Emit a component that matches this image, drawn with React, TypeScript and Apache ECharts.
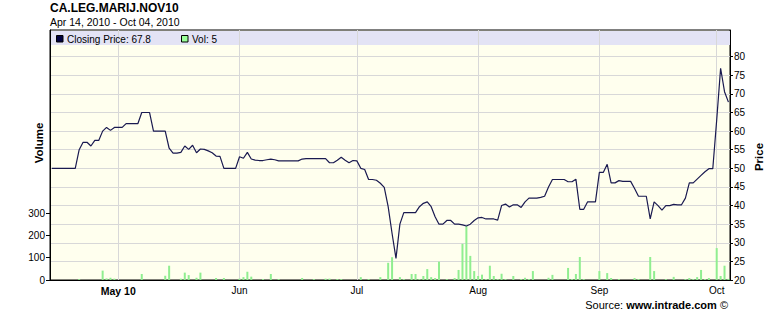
import React, { useEffect, useRef } from "react";
import * as echarts from "echarts";

const startDate = "2010-04-14";

const closingPrices = [
  50, 50, 50, 50, 50, 50, 50,
  55, 57, 57, 56, 57.5, 57.5,
  60, 61, 60.2, 61, 61, 61,
  62, 62, 62, 62, 65, 65, 65,
  60, 60, 60, 60, 55.4, 54.1, 54.1, 54.3,
  56, 55.1, 56.2, 54.2, 55.2, 55.1, 54.7, 54.2, 53.3, 53.2,
  50, 50, 50, 50, 53.1, 52.7, 54.3, 52.5, 52.2, 52.1,
  52.1, 52.3, 52.5, 52.3, 52, 52, 52, 52, 52, 52,
  52.5, 52.6, 52.6, 52.6, 52.6, 52.6, 52.6, 51.5, 51.5, 52.2,
  53, 52.2, 51.5, 52.1, 52, 50, 49.7, 47, 47, 46.8,
  46, 44.9, 39.7, 32.5, 25.8, 35, 38.1, 38.1, 38.1, 38.1,
  39.7, 40.6, 41, 39.7, 37, 35, 35, 36, 36, 35,
  35, 34.8, 34.5, 35, 36, 36.7, 36.8, 36.4, 36.4, 36.4,
  36.1, 40, 40.4, 39.6, 40.2, 40.2, 39.5, 41, 42, 42,
  42, 42.2, 42.5, 45, 47, 47, 47, 47, 46.4, 46.4,
  47.1, 39, 39, 41, 41, 41, 48.9, 48.9, 51.1, 46.1,
  46.1, 46.7, 46.5, 46.5, 46.5, 44.6, 42.5, 42.5, 42.5, 36.4,
  41, 40, 38.8, 40, 40, 40.3, 40.2, 40.2, 42, 46.1,
  46.1, 47.1, 48.1, 49.1, 49.9, 49.9, 63, 76.9, 70.6, 67.8,
];

const volumes = [
  0, 0, 0, 0, 0, 0, 0, 4, 0, 0,
  0, 0, 0, 42, 7, 10, 6, 0, 0, 0,
  0, 0, 0, 27, 0, 0, 0, 0, 0, 19,
  64, 0, 0, 6, 33, 22, 0, 10, 33, 0,
  0, 0, 9, 0, 9, 0, 0, 0, 6, 13,
  37, 15, 0, 0, 4, 0, 27, 0, 4, 0,
  0, 0, 0, 0, 9, 0, 0, 4, 0, 0,
  6, 6, 0, 4, 4, 0, 0, 0, 0, 13,
  0, 4, 0, 0, 13, 0, 77, 102, 0, 13,
  4, 0, 27, 27, 4, 18, 49, 13, 9, 82,
  0, 4, 0, 9, 45, 162, 241, 108, 40, 18,
  24, 4, 64, 18, 4, 28, 4, 0, 18, 0,
  4, 10, 4, 40, 0, 0, 0, 10, 23, 0,
  0, 0, 54, 4, 27, 103, 4, 0, 0, 0,
  40, 0, 31, 9, 0, 4, 0, 0, 0, 9,
  4, 0, 0, 103, 40, 0, 0, 4, 0, 14,
  0, 0, 4, 9, 4, 13, 45, 4, 9, 0,
  143, 18, 64, 5,
];

const priceTicks = [20, 25, 30, 35, 40, 45, 50, 55, 60, 65, 70, 75, 80];
const volumeTicks = [0, 100, 200, 300];
const monthTicks = ["2010-05-01", "2010-06-01", "2010-07-01", "2010-08-01", "2010-09-01", "2010-10-01"];
const monthLabels = ["May 10", "Jun", "Jul", "Aug", "Sep", "Oct"];

const FONT = "Arial, 'Liberation Sans', sans-serif";
const DAY = 86400000;

export default function App() {
  const ref = useRef<HTMLDivElement>(null);

  useEffect(() => {
    if (!ref.current) return;
    const chart = echarts.init(ref.current, undefined, { renderer: "svg" });
    const t0 = Date.parse(startDate);
    const dates = closingPrices.map((_, i) => t0 + i * DAY);
    const monthTs = monthTicks.map((m) => Date.parse(m));
    const xMin = t0 - 0.46 * DAY;
    const xMax = t0 + 173.4 * DAY;

    const option: any = {
      animation: false,
      backgroundColor: "#ffffff",
      grid: {
        left: 50,
        right: 50,
        top: 30,
        bottom: 31,
        show: true,
        backgroundColor: "#FFFFEE",
        borderColor: "#000000",
        borderWidth: 1,
        z: 0,
      },
      xAxis: {
        type: "value",
        min: xMin,
        max: xMax,
        z: 2,
        axisLine: { show: true, onZero: false, lineStyle: { color: "#000", width: 1 } },
        axisTick: { show: false, customValues: monthTs },
        axisLabel: {
          customValues: monthTs,
          margin: 5,
          fontSize: 10,
          fontFamily: FONT,
          color: "#000",
          formatter: (v: number) => {
            let idx = -1;
            monthTs.forEach((m, i) => {
              if (Math.abs(m - v) < DAY / 2) idx = i;
            });
            const lbl = idx >= 0 ? monthLabels[idx] : "";
            return idx === 0 ? "{b|" + lbl + "}" : lbl;
          },
          rich: {
            b: { fontWeight: "bold", fontSize: 10.5, fontFamily: FONT, color: "#000" },
          },
        },
        splitLine: { show: true, lineStyle: { color: "#d8d8d8", width: 1 } },
      },
      yAxis: [
        {
          type: "value",
          position: "right",
          min: 20,
          max: 87.17,
          z: 2,
          axisLine: { show: true, lineStyle: { color: "#000", width: 1 } },
          axisTick: { show: true, length: 3, customValues: priceTicks, lineStyle: { color: "#000" } },
          axisLabel: { customValues: priceTicks, margin: 4, fontSize: 10, fontFamily: FONT, color: "#000" },
          splitLine: { show: true, lineStyle: { color: "#d8d8d8", width: 1 } },
        },
        {
          type: "value",
          position: "left",
          min: 0,
          max: 1119.5,
          z: 2,
          axisLine: { show: true, lineStyle: { color: "#000", width: 1 } },
          axisTick: { show: true, length: 4, customValues: volumeTicks, lineStyle: { color: "#000" } },
          axisLabel: { customValues: volumeTicks, margin: 5, fontSize: 10, fontFamily: FONT, color: "#000" },
          splitLine: { show: false },
        },
      ],
      series: [
        {
          type: "bar",
          name: "Vol",
          yAxisIndex: 1,
          data: dates.map((d, i) => [d, volumes[i]]),
          barWidth: 2,
          itemStyle: { color: "#90EE90" },
          z: 3,
          silent: true,
        },
        {
          type: "line",
          name: "Closing Price",
          yAxisIndex: 0,
          data: dates.map((d, i) => [d, closingPrices[i]]),
          showSymbol: false,
          symbol: "none",
          lineStyle: { color: "#1a1a50", width: 1.2 },
          z: 4,
          silent: true,
        },
      ],
      graphic: [
        {
          type: "rect",
          shape: { x: 51, y: 31, width: 679, height: 14 },
          style: { fill: "#E3E3F5" },
          z: 1,
          silent: true,
        },
        {
          type: "rect",
          shape: { x: 56.5, y: 35.5, width: 6.5, height: 6.5 },
          style: { fill: "#000040", stroke: "#000", lineWidth: 1 },
          z: 10,
        },
        {
          type: "text",
          x: 67,
          y: 39,
          style: { text: "Closing Price: 67.8", fill: "#000", fontSize: 10, fontFamily: FONT, verticalAlign: "middle" },
          z: 10,
        },
        {
          type: "rect",
          shape: { x: 181.5, y: 35.5, width: 6.5, height: 6.5 },
          style: { fill: "#99FF99", stroke: "#000", lineWidth: 1 },
          z: 10,
        },
        {
          type: "text",
          x: 192,
          y: 39,
          style: { text: "Vol: 5", fill: "#000", fontSize: 10, fontFamily: FONT, verticalAlign: "middle" },
          z: 10,
        },
        {
          type: "text",
          x: 50,
          y: 1.5,
          style: { text: "CA.LEG.MARIJ.NOV10", fill: "#000", fontSize: 12, fontWeight: "bold", fontFamily: FONT, verticalAlign: "top" },
          z: 10,
        },
        {
          type: "text",
          x: 50,
          y: 16.5,
          style: { text: "Apr 14, 2010 - Oct 04, 2010", fill: "#000", fontSize: 10.5, fontFamily: FONT, verticalAlign: "top" },
          z: 10,
        },
        {
          type: "text",
          x: 38.5,
          y: 143,
          rotation: Math.PI / 2,
          style: { text: "Volume", fill: "#000", fontSize: 11.5, fontWeight: "bold", fontFamily: FONT, align: "center", verticalAlign: "middle" },
          z: 10,
        },
        {
          type: "text",
          x: 758.5,
          y: 157,
          rotation: Math.PI / 2,
          style: { text: "Price", fill: "#000", fontSize: 11.5, fontWeight: "bold", fontFamily: FONT, align: "center", verticalAlign: "middle" },
          z: 10,
        },
        {
          type: "text",
          x: 728,
          y: 305,
          style: {
            text: "{a|Source: }{b|www.intrade.com}{a| \u00A9}",
            align: "right",
            verticalAlign: "middle",
            rich: {
              a: { fontSize: 11, fontFamily: FONT, fill: "#000", color: "#000" },
              b: { fontSize: 11, fontFamily: FONT, fontWeight: "bold", fill: "#000", color: "#000" },
            },
          },
          z: 10,
        },
      ],
    };

    chart.setOption(option);
    return () => chart.dispose();
  }, []);

  return (
    <div
      ref={ref}
      style={{ position: "fixed", left: 0, top: 0, width: 780, height: 311 }}
    />
  );
}
